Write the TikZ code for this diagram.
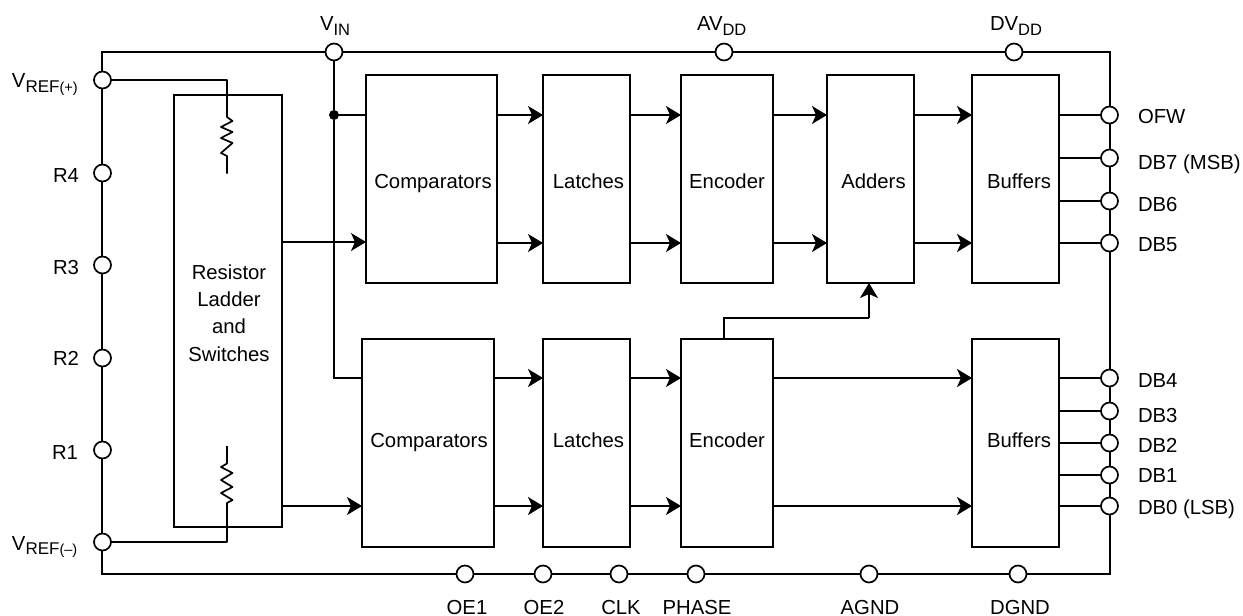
\documentclass[tikz,border=0pt]{standalone}
\usepackage{fontspec}
\setmainfont{Liberation Sans}
\usetikzlibrary{arrows.meta,calc}
\tikzset{
  x=1pt,y=-1pt,
  every node/.style={font=\fontsize{20.3}{23}\selectfont},
  wire/.style={line width=1.7pt,black},
  arr/.style={wire,-{Stealth[length=15pt,width=18pt,inset=4pt]}},
  pin/.style={circle,draw,line width=1.7pt,fill=white,minimum size=17pt,inner sep=0pt,outer sep=0pt},
  dot/.style={circle,fill=black,minimum size=10pt,inner sep=0pt},
  block/.style={draw,line width=1.7pt,fill=white,anchor=north west,inner sep=0pt,outer sep=0pt},
  lbl/.style={inner sep=0pt,outer sep=0pt},
  txt/.style={lbl,anchor=base},
}
\newcommand{\blk}[5]{\node[block,minimum width=#3pt-#2pt,minimum height=#5pt-#4pt] (#1) at (#2,#4) {};}
\newcommand{\sbs}[2][0]{\raisebox{-#1pt}{\fontsize{16.5}{18}\selectfont #2}}
\begin{document}
\begin{tikzpicture}
\useasboundingbox (0,0) rectangle (1243,616);
% frame corners
\coordinate (tl) at (102,52); \coordinate (tr) at (1110,52);
\coordinate (bl) at (102,574); \coordinate (br) at (1110,574);
\draw[wire] (tl) -- (tr) -- (br) -- (bl) -- cycle;
% rows
\coordinate (ya) at (0,115); \coordinate (yb) at (0,243);
\coordinate (yc) at (0,378); \coordinate (yd) at (0,506);
% blocks
\blk{res}{174}{282}{95}{527}
\blk{cmpa}{366}{497}{75}{283}
\blk{lata}{543}{630}{75}{283}
\blk{enca}{681}{773}{75}{283}
\blk{add}{827}{914}{75}{283}
\blk{bufa}{972}{1059}{75}{283}
\blk{cmpb}{362}{494}{339}{547}
\blk{latb}{543}{630}{339}{547}
\blk{encb}{681}{773}{339}{547}
\blk{bufb}{972}{1059}{339}{547}
% block texts
\node[lbl,align=center,anchor=base] (rest) at (229,361) {Resistor\\[4.3pt]Ladder\\[4.3pt]and\\[4.3pt]Switches};
\foreach \n/\t/\x/\y in {cmpat/Comparators/433/188,latat/Latches/588.5/188,encat/Encoder/727/188,addt/Adders/873.5/188,bufat/Buffers/1019/188,
  cmpbt/Comparators/429/447,latbt/Latches/588.5/447,encbt/Encoder/727/447,bufbt/Buffers/1019/447}
  \node[txt] (\n) at (\x,\y) {\t};
% pins
\foreach \n/\x/\y in {vin/334/52,avdd/724/52,dvdd/1014/52,
  vrefp/102.5/80,rfour/102.5/173,rthree/102.5/265,rtwo/102.5/358,rone/102.5/450,vrefm/102.5/542,
  ofw/1109.5/115,dbs/1109.5/158,dbx/1109.5/201,dbv/1109.5/243,dbiv/1109.5/378,dbiii/1109.5/411,dbii/1109.5/443,dbi/1109.5/475,dbo/1109.5/506,
  oea/465/574,oeb/543/574,clk/619/574,phase/696/574,agnd/869/574,dgnd/1018/574}
  \node[pin] (\n) at (\x,\y) {};
% VIN
\node[dot] (vdot) at (334,115) {};
\coordinate (vcorner) at (334,378);
\draw[wire] (vin) -- (vdot) -- (vcorner) -- (cmpb.west |- vcorner);
\draw[wire] (vdot) -- (cmpa.west |- vdot);
% resistors
\coordinate (rpa) at (227,80); \coordinate (rpb) at (227,117);
\coordinate (rpc) at (227,156); \coordinate (rpd) at (227,173.5);
\draw[wire,line join=round] (vrefp) -- (rpa) -- (rpb) -- (232.5,121) -- (221,127) -- (232.5,132) -- (221,138) -- (232.5,143) -- (221,153) -- (rpc) -- (rpd);
\coordinate (rma) at (227,542); \coordinate (rmb) at (227,503);
\coordinate (rmc) at (227,463.5); \coordinate (rmd) at (227,446);
\draw[wire,line join=round] (vrefm) -- (rma) -- (rmb) -- (232.5,500) -- (221,493) -- (232.5,487) -- (221,480) -- (232.5,473) -- (221,467) -- (rmc) -- (rmd);
% ladder taps
\coordinate (tapa) at (0,242); \coordinate (tapb) at (0,506);
\draw[arr] (res.east |- tapa) -- (cmpa.west |- tapa);
\draw[arr] (res.east |- tapb) -- (cmpb.west |- tapb);
% top row
\foreach \a/\b in {cmpa/lata,lata/enca,enca/add,add/bufa}{
  \draw[arr] (\a.east |- ya) -- (\b.west |- ya);
  \draw[arr] (\a.east |- yb) -- (\b.west |- yb);
}
% bottom row
\foreach \a/\b in {cmpb/latb,latb/encb,encb/bufb}{
  \draw[arr] (\a.east |- yc) -- (\b.west |- yc);
  \draw[arr] (\a.east |- yd) -- (\b.west |- yd);
}
% encoder to adders
\coordinate (ea) at (724,339); \coordinate (eb) at (724,318); \coordinate (ec) at (869,318);
\draw[wire] (ea) -- (eb) -- (ec);
\draw[arr] (ec) -- (add.south -| ec);
% outputs
\foreach \p in {ofw,dbs,dbx,dbv}{\draw[wire] (bufa.east |- \p) -- (\p);}
\foreach \p in {dbiv,dbiii,dbii,dbi,dbo}{\draw[wire] (bufb.east |- \p) -- (\p);}
% labels
\node[lbl,anchor=base west] (lvin) at (320,30) {V\sbs[5]{IN}};
\node[lbl,anchor=base west] (lav) at (697,30) {AV\sbs[5]{DD}};
\node[lbl,anchor=base west] (ldv) at (990,30) {DV\sbs[5]{DD}};
\node[lbl,anchor=base west] (lvp) at (12,87) {V\raisebox{-5pt}{\fontsize{17}{18}\selectfont REF\fontsize{14.5}{18}\selectfont (+)}};
\node[lbl,anchor=base west] (lvm) at (12,550) {V\raisebox{-4pt}{\fontsize{17}{18}\selectfont REF\fontsize{14.5}{18}\selectfont (–)}};
\foreach \t/\x/\y in {R4/79/182.5,R3/79/274,R2/79/365,R1/78/459}
  \node[lbl,anchor=base east] at (\x,\y) {\t};
\foreach \t/\y in {OFW/123,DB7 (MSB)/169.5,DB6/211,DB5/251,DB4/387,DB3/422,DB2/452,DB1/482,DB0 (LSB)/514}
  \node[lbl,anchor=base west] at (1138,\y) {\t};
\foreach \t/\x in {OE1/467,OE2/544,CLK/621,PHASE/697,AGND/870,DGND/1020}
  \node[txt] at (\x,614) {\t};
\end{tikzpicture}
\end{document}
